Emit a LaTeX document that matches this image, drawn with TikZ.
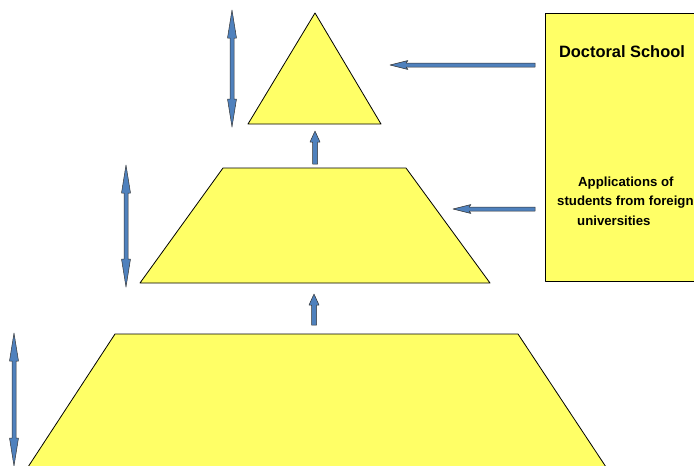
\documentclass[tikz,border=0pt]{standalone}
\usepackage{fontspec}
\setmainfont{Liberation Sans}
\usepackage{xcolor}
\definecolor{levelyellow}{RGB}{255,255,102}
\definecolor{arrowblue}{RGB}{79,129,189}
\usetikzlibrary{positioning}

% block arrows: x, top y, bottom y  /  y, left x, right x
\newcommand{\vdblarrow}[3]{%
\filldraw[blockarrow] (#1,#2) -- (#1+4.5,#2+28) -- (#1+2,#2+28) -- (#1+2,#3-28) -- (#1+4.5,#3-28)
 -- (#1,#3) -- (#1-4.5,#3-28) -- (#1-2,#3-28) -- (#1-2,#2+28) -- (#1-4.5,#2+28) -- cycle;}
\newcommand{\upblockarrow}[3]{%
\filldraw[blockarrow] (#1,#2) -- (#1+5,#2+11) -- (#1+2.5,#2+11) -- (#1+2.5,#3) -- (#1-2.5,#3)
 -- (#1-2.5,#2+11) -- (#1-5,#2+11) -- cycle;}
\newcommand{\leftblockarrow}[3]{%
\filldraw[blockarrow] (#2,#1) -- (#2+18,#1-4.5) -- (#2+16,#1-2) -- (#3,#1-2) -- (#3,#1+2)
 -- (#2+16,#1+2) -- (#2+18,#1+4.5) -- cycle;}

\begin{document}
\begin{tikzpicture}[x=1pt,y=-1pt,
  level/.style={draw=black,fill=levelyellow,line width=0.8pt,line join=round},
  blockarrow/.style={draw=black!80,fill=arrowblue,line width=0.5pt,line join=round},
  boxtext/.style={inner sep=0pt}]
\useasboundingbox (0,0) rectangle (694,466);
\clip (0,0) rectangle (694,466);

% pyramid
\draw[level] (315,13) -- (381,124) -- (248,124) -- cycle;
\draw[level] (223,168) -- (406,168) -- (490,283) -- (140,283) -- cycle;
\draw[level] (115,334) -- (518,334) -- (606,467) -- (28,467) -- cycle;

% doctoral school box
\draw[level] (545,13) rectangle (700,281);
\node[boxtext,anchor=base,font=\bfseries\fontsize{16.4}{18}\selectfont] (school) at (622,57) {Doctoral School};
\node[boxtext,anchor=north west,align=left,font=\bfseries\fontsize{13.2}{19.5}\selectfont] (applications) at (557,176.5)
  {\hspace{21pt}Applications of\\students from foreign\\\hspace{20pt}universities};

% arrows
\vdblarrow{232}{10}{127}
\vdblarrow{126}{165}{287}
\vdblarrow{14}{333}{466}
\upblockarrow{315}{131}{164}
\upblockarrow{314}{294}{325}
\leftblockarrow{65}{390}{535}
\leftblockarrow{209}{453}{535}
\end{tikzpicture}
\end{document}
